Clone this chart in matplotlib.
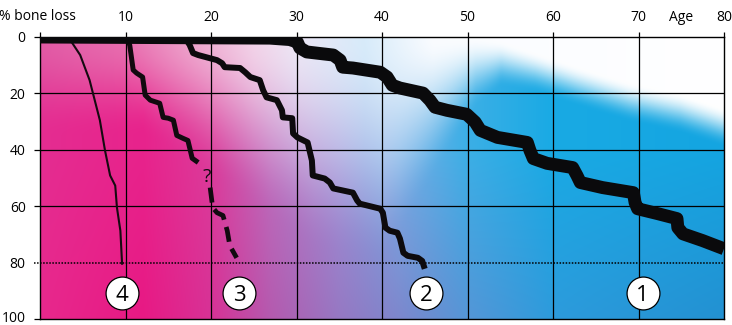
import numpy as np
import matplotlib
matplotlib.use("Agg")
import matplotlib.pyplot as plt
from matplotlib.transforms import offset_copy

plt.rcParams['font.family'] = ['Open Sans', 'DejaVu Sans']

# curve data: age (years) vs % bone loss
age_1 = [0, 26.9, 29.2, 30.1, 30.4, 31.2, 34.3, 35.1, 35.4, 36.6, 39.8, 40.6, 41.2, 42.1,
         44.8, 45.6, 46.2, 47.6, 49.9, 50.9, 51.5, 53.5, 57.0, 57.3, 57.7, 59.3, 62.3,
         62.8, 63.2, 65.8, 69.4, 69.6, 69.9, 72.2, 74.5, 74.6, 75.2, 77.5, 80.0]
loss_1 = [0, 0.4, 0.9, 1.8, 3.9, 5.3, 6.4, 8.2, 10.7, 11.0, 12.5, 14.2, 17.1, 18.1,
          19.9, 22.4, 24.9, 26.0, 27.4, 30.2, 33.1, 35.6, 37.4, 40.2, 43.1, 44.8, 46.3,
          49.1, 51.6, 53.4, 55.2, 58.7, 60.9, 62.6, 64.4, 67.6, 69.8, 72.2, 75.1]

age_2 = [0, 14.0, 14.6, 17.2, 17.5, 17.9, 18.5, 20.7, 21.3, 21.6, 23.4, 24.0, 24.6, 25.7,
         26.1, 26.5, 27.7, 28.3, 28.4, 29.5, 29.6, 30.1, 31.3, 31.8, 31.9, 33.3, 33.9,
         34.3, 36.6, 37.1, 37.4, 39.8, 40.1, 40.4, 40.9, 41.8, 42.1, 42.5, 43.0, 44.2,
         44.7, 45.0]
loss_2 = [0, 0.4, 1.1, 1.4, 2.8, 5.7, 6.4, 8.2, 9.3, 10.7, 11.0, 12.5, 14.2, 15.3,
          18.9, 21.4, 22.4, 26.0, 28.5, 28.8, 34.2, 35.6, 37.4, 43.8, 49.1, 50.2, 51.6,
          53.7, 55.2, 58.0, 59.1, 60.9, 62.3, 67.6, 68.7, 69.4, 71.5, 76.5, 77.6, 78.3,
          79.4, 82.2]

age_3 = [0, 10.2, 10.5, 10.9, 11.3, 12.0, 12.3, 12.9, 14.0, 14.4, 15.0, 15.6, 16.0,
         16.7, 17.3, 17.8, 18.5]
loss_3 = [0, 0, 3.0, 11.7, 12.8, 14.2, 20.6, 22.4, 23.5, 28.5, 28.8, 29.5, 34.9,
          35.9, 36.7, 43.0, 44.5]
age_3b = [19.9, 20.2, 20.7, 21.4, 21.9, 22.2, 23.0]
loss_3b = [53.4, 60.5, 62.3, 63.3, 68.7, 74.0, 78.3]

age_4 = [0, 2.3, 2.9, 3.7, 4.7, 5.8, 7.0, 7.6, 8.2, 8.8, 9.0, 9.4, 9.6]
loss_4 = [0, 0.2, 0.4, 1.8, 6.4, 15.3, 29.5, 40.2, 49.1, 52.7, 60.5, 68.7, 80.4]

labels = ['1', '2', '3', '4']
label_age = [70.5, 45.2, 23.3, 9.6]
label_loss = [90.7, 90.7, 90.7, 90.7]

x_ticks = [0, 10, 20, 30, 40, 50, 60, 70, 80]
x_labels = ['', '10', '20', '30', '40', '50', '60', '70', '80']
y_ticks = [0, 20, 40, 60, 80, 100]

fig = plt.figure(figsize=(7.32, 3.25), dpi=100)
ax = fig.add_axes([40/732, 1-319/325, 684/732, 282/325])


def rgb_stops(xs, cols, x):
    cols = np.array(cols, dtype=float)
    return np.stack([np.interp(x, xs, cols[:, i]) for i in range(3)], axis=-1)


# background gradient
ga = np.linspace(0, 80, 400)
gl = np.linspace(0, 100, 260)
A, L = np.meshgrid(ga, gl)
sx = [0, 12, 20, 27, 35, 42, 50, 60, 80]
mid = rgb_stops(sx, [(228, 45, 145), (232, 35, 140), (220, 60, 155), (190, 110, 190),
                     (160, 145, 215), (120, 175, 230), (60, 175, 230), (25, 170, 228),
                     (20, 165, 225)], A)
bot = rgb_stops(sx, [(232, 40, 140), (232, 25, 132), (215, 50, 150), (180, 90, 175),
                     (150, 120, 195), (125, 135, 205), (85, 150, 215), (45, 155, 220),
                     (35, 145, 210)], A)
k = np.clip((L - 40) / 60, 0, 1)[..., None]
base = mid + (bot - mid) * k
light = rgb_stops([0, 10, 18, 25, 30, 38, 46, 80],
                  [(225, 90, 165), (232, 110, 175), (238, 165, 205), (242, 210, 232),
                   (236, 230, 245), (215, 235, 250), (250, 252, 255), (255, 255, 255)], A)
start = np.interp(A, [0, 51, 54, 57, 63, 69, 75, 80], [0, 0, 1.5, 4.5, 10.5, 16, 20, 25])
width = np.interp(A, [0, 12, 18, 25, 32, 40, 45, 48, 51, 54, 58, 80],
                  [35, 35, 45, 60, 75, 80, 55, 40, 25, 16, 14, 14])
t = np.clip((L - start) / width, 0, 1)
w = (1 - t * t * (3 - 2 * t))[..., None]
img = (base * (1 - w) + light * w) / 255
ax.imshow(img, extent=[0, 80, 100, 0], aspect='auto', interpolation='bilinear', zorder=0)

ax.set_xlim(0, 80)
ax.set_ylim(100, 0)

for x in x_ticks[1:-1]:
    ax.axvline(x, color='black', lw=0.9, zorder=1)
for y in [20, 40, 60]:
    ax.axhline(y, color='black', lw=0.9, zorder=1)
ax.plot([-0.75, 80], [80, 80], color='black', lw=1.1, ls=(0, (1, 1)), zorder=1, clip_on=False)

for sp in ax.spines.values():
    sp.set_linewidth(1.0)
    sp.set_color('black')

ax.xaxis.tick_top()
ax.set_xticks(x_ticks, x_labels)
ax.set_yticks(y_ticks, [str(v) for v in y_ticks])
ax.tick_params(axis='both', direction='out', width=0.9, colors='black', labelsize=10)
ax.tick_params(axis='x', length=3.6, pad=5)
ax.tick_params(axis='y', length=4.3, pad=6)
ax.set_xticks([75], ['Age'], minor=True)
ax.tick_params(axis='x', which='minor', length=0, pad=5 + 3.6, labelsize=10)
ax.yaxis.get_major_ticks()[4].tick1line.set_visible(False)
lab100 = ax.get_yticklabels()[-1]
lab100.set_verticalalignment('baseline')
lab100.set_transform(offset_copy(lab100.get_transform(), fig=fig, y=-3, units='dots'))

# curves
ax.plot(age_4, loss_4, color='#150a10', lw=1.5, zorder=3, solid_joinstyle='round')
ax.plot(age_3, loss_3, color='#120a0f', lw=3.6, zorder=3, solid_joinstyle='round',
        solid_capstyle='butt')
ax.plot(age_3b, loss_3b, color='#120a0f', lw=3.4, ls=(0, (3.2, 1.6)), zorder=3,
        dash_joinstyle='round')
ax.text(19.5, 49.8, '?', fontsize=14, ha='center', va='center', color='#120a0f', zorder=4)
ax.plot(age_2, loss_2, color='#0d0a0d', lw=4.3, zorder=3, solid_joinstyle='round',
        solid_capstyle='butt')
ax.plot(age_1, loss_1, color='#0a0a0c', lw=9.3, zorder=3, solid_joinstyle='round',
        solid_capstyle='butt')

ax.scatter(label_age, label_loss, s=560, facecolor='white', edgecolor='black',
           linewidths=0.9, zorder=5)
for lab, a, l in zip(labels, label_age, label_loss):
    ax.text(a, l, lab, fontsize=16, ha='center', va='center_baseline', color='black', zorder=6)

fig.text(-0.002, 1 - 16.5/325, '% bone loss', fontsize=10, ha='left', va='center')

fig.savefig('out.png', dpi=100)
